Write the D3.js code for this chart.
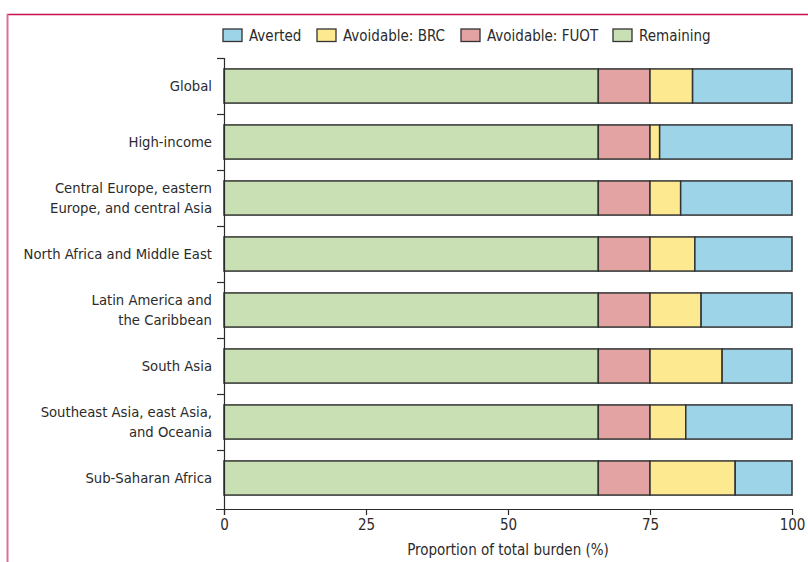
<!DOCTYPE html>
<html>
<head>
<meta charset="utf-8">
<script src="https://cdn.jsdelivr.net/npm/d3@7"></script>
<style>
  body { margin: 0; background: #fff; }
  svg { display: block; font-family: "Liberation Sans Narrow", "DejaVu Sans Condensed", sans-serif; }
</style>
</head>
<body>
<div id="chart"></div>
<script>
// regions, top to bottom
const regions = [
  ["Global"],
  ["High-income"],
  ["Central Europe, eastern", "Europe, and central Asia"],
  ["North Africa and Middle East"],
  ["Latin America and", "the Caribbean"],
  ["South Asia"],
  ["Southeast Asia, east Asia,", "and Oceania"],
  ["Sub-Saharan Africa"]
];
// % of total burden
const remaining = [65.9, 65.9, 65.9, 65.9, 65.9, 65.9, 65.9, 65.9];
const fuot      = [9.1, 9.1, 9.1, 9.1, 9.1, 9.1, 9.1, 9.1];
const brc       = [7.5, 1.7, 5.4, 7.9, 9.0, 12.7, 6.3, 15.0];
const averted   = [17.5, 23.3, 19.6, 17.1, 16.0, 12.3, 18.7, 10.0];

const legendKeys = ["Averted", "Avoidable: BRC", "Avoidable: FUOT", "Remaining"];
const stackKeys = ["Remaining", "Avoidable: FUOT", "Avoidable: BRC", "Averted"];
const xTicks = [0, 25, 50, 75, 100];

const color = d3.scaleOrdinal()
  .domain(legendKeys)
  .range(["#9dd4e8", "#fde98f", "#e3a3a2", "#c9e0b5"]);

const rows = regions.map((r, i) => ({
  id: i,
  label: r,
  "Remaining": remaining[i],
  "Avoidable: FUOT": fuot[i],
  "Avoidable: BRC": brc[i],
  "Averted": averted[i]
}));

const width = 808, height = 562;
const svg = d3.select("#chart").append("svg")
  .attr("width", width).attr("height", height);

// frame
svg.append("line").attr("x1", 7).attr("x2", width).attr("y1", 14.5).attr("y2", 14.5)
  .attr("stroke", "#c8124c").attr("stroke-width", 1.3);
svg.append("line").attr("x1", 7.5).attr("x2", 7.5).attr("y1", 14).attr("y2", height)
  .attr("stroke", "#d8729b").attr("stroke-width", 2);

const xScale = d3.scaleLinear().domain([0, 100]).range([224, 792]);
const yScale = d3.scaleBand().domain(rows.map(d => d.id)).range([58, 506]).paddingInner(0.39).paddingOuter(0.195);

const series = d3.stack().keys(stackKeys)(rows);
const textCol = "#2b2b2b";

svg.append("g")
  .selectAll("g")
  .data(series)
  .join("g")
  .attr("fill", d => color(d.key))
  .selectAll("rect")
  .data(d => d)
  .join("rect")
  .attr("x", d => xScale(d[0]))
  .attr("width", d => xScale(d[1]) - xScale(d[0]))
  .attr("y", d => yScale(d.data.id))
  .attr("height", yScale.bandwidth())
  .attr("stroke", "#333")
  .attr("stroke-width", 1.5);

// y axis: line plus ticks between bands
const step = yScale.step();
const yBounds = d3.range(rows.length).map(i => 58 + i * step);
svg.append("line").attr("x1", 224.5).attr("x2", 224.5).attr("y1", 58).attr("y2", 515)
  .attr("stroke", textCol).attr("stroke-width", 1.2);
svg.append("g").selectAll("line").data(yBounds).join("line")
  .attr("x1", 217).attr("x2", 224.5)
  .attr("y1", d => d + 0.5).attr("y2", d => d + 0.5)
  .attr("stroke", textCol).attr("stroke-width", 1.2);

const yLabels = svg.append("g").selectAll("text").data(rows).join("text")
  .attr("text-anchor", "end")
  .attr("font-size", 14.7)
  .attr("fill", textCol)
  .attr("transform", d => `translate(212,${yScale(d.id) + yScale.bandwidth() / 2})`);
yLabels.each(function(d) {
  const t = d3.select(this);
  const n = d.label.length;
  d.label.forEach((line, k) => {
    t.append("tspan").attr("x", 0)
      .attr("y", (k - (n - 1) / 2) * 20)
      .attr("dy", "0.35em")
      .text(line);
  });
});

// x axis
const xAxis = d3.axisBottom(xScale).tickValues(xTicks).tickSize(6).tickPadding(4).tickSizeOuter(0);
const xGroup = svg.append("g")
  .attr("transform", "translate(0,509)")
  .call(xAxis);
xGroup.select(".domain").remove();
xGroup.selectAll("line").attr("stroke", textCol).attr("stroke-width", 1.2);
xGroup.selectAll("text").attr("font-size", 15).attr("fill", textCol)
  .attr("font-family", "Liberation Sans Narrow, DejaVu Sans Condensed, sans-serif");
svg.append("line").attr("x1", 216).attr("x2", 792).attr("y1", 509.5).attr("y2", 509.5)
  .attr("stroke", textCol).attr("stroke-width", 1.2);

svg.append("text")
  .attr("x", 508).attr("y", 555)
  .attr("text-anchor", "middle")
  .attr("font-size", 15)
  .attr("fill", textCol)
  .text("Proportion of total burden (%)");

// legend
const legendX = [223, 317, 461, 613];
const legend = svg.append("g").selectAll("g").data(legendKeys).join("g")
  .attr("transform", (d, i) => `translate(${legendX[i]},29)`);
legend.append("rect")
  .attr("width", 19).attr("height", 12.5)
  .attr("fill", d => color(d))
  .attr("stroke", "#333").attr("stroke-width", 1.3);
legend.append("text")
  .attr("x", 26).attr("y", 6.5).attr("dy", "0.35em")
  .attr("font-size", 15)
  .attr("fill", textCol)
  .text(d => d);
</script>
</body>
</html>
